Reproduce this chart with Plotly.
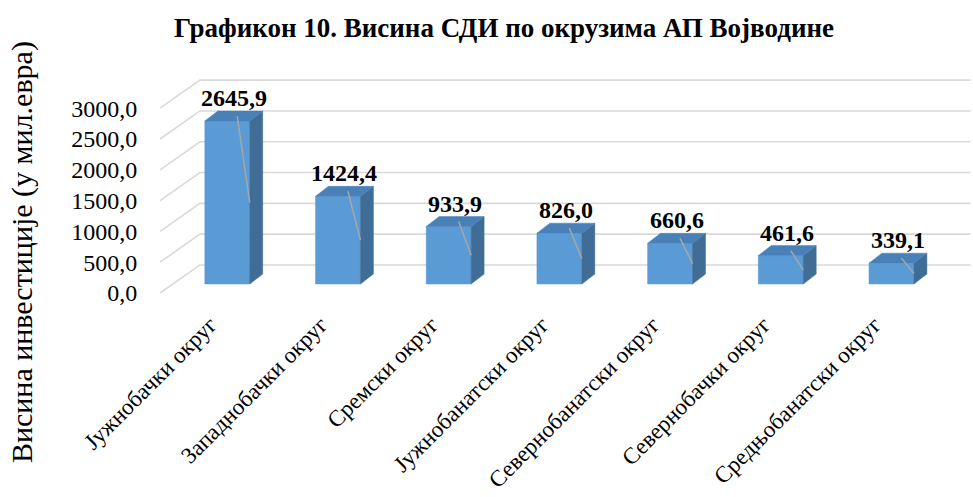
import plotly.graph_objects as go

# Data: FDI by district of AP Vojvodina (million EUR)
districts = [
    "Јужнобачки округ",
    "Западнобачки округ",
    "Сремски округ",
    "Јужнобанатски округ",
    "Севернобанатски округ",
    "Севернобачки округ",
    "Средњобанатски округ",
]
values = [2645.9, 1424.4, 933.9, 826.0, 660.6, 461.6, 339.1]
y_ticks = [0, 500, 1000, 1500, 2000, 2500, 3000]

title_text = "<b>Графикон 10. Висина СДИ по окрузима АП Војводине</b>"
y_title = "Висина инвестиције (у мил.евра)"

# Pseudo-3D geometry (x in category units, y in value units)
WALL_DX, WALL_DY = 0.361, 455.0      # floor depth: front plane -> back wall
BAR_D0 = 0.32                        # depth where the bar front face sits
BAR_W = 0.406                        # front face width
BAR_DX, BAR_DY = 0.117, 162.0        # bar depth in projection
FLOOR_LEFT, WALL_RIGHT = -0.492, 6.83

FONT = "Liberation Serif"
FRONT = "#5B9BD5"
SIDE = "#3F6D96"
TOP = "#4A80B8"
GRID = "#D9D9D9"

fig = go.Figure()

# Gridlines: diagonal on the side wall, horizontal on the back wall
for t in y_ticks:
    xs = [FLOOR_LEFT, FLOOR_LEFT + WALL_DX, WALL_RIGHT]
    ys = [t, t + WALL_DY, t + WALL_DY]
    fig.add_trace(go.Scatter(x=xs, y=ys, mode="lines",
                             line=dict(color=GRID, width=1.6),
                             hoverinfo="skip", showlegend=False))

def poly(xs, ys, color):
    fig.add_trace(go.Scatter(x=xs + [xs[0]], y=ys + [ys[0]], mode="lines",
                             fill="toself", fillcolor=color,
                             line=dict(color=color, width=0.5),
                             hoverinfo="skip", showlegend=False))

for i, v in enumerate(values):
    xc = i + BAR_D0 * WALL_DX
    xl, xr = xc - BAR_W / 2, xc + BAR_W / 2
    b = BAR_D0 * WALL_DY
    t = b + v
    # front face
    poly([xl, xr, xr, xl], [b, b, t, t], FRONT)
    # right side face
    poly([xr, xr + BAR_DX, xr + BAR_DX, xr], [b, b + BAR_DY, t + BAR_DY, t], SIDE)
    # top face
    poly([xl, xr, xr + BAR_DX, xl + BAR_DX], [t, t, t + BAR_DY, t + BAR_DY], TOP)
    # label leader line
    fig.add_trace(go.Scatter(x=[xc + 0.09, xr], y=[t + 0.5 * BAR_DY, b + v / 2],
                             mode="lines", line=dict(color="#A6A6A6", width=1.5),
                             hoverinfo="skip", showlegend=False))
    fig.add_annotation(x=xc + BAR_DX / 2, y=t + BAR_DY,
                       text="<b>" + f"{v:.1f}".replace(".", ",") + "</b>",
                       showarrow=False, yanchor="middle", yshift=13,
                       font=dict(family=FONT, size=24, color="#000000"))

fig.update_layout(
    width=973, height=497,
    margin=dict(l=155, r=0, t=75, b=202),
    paper_bgcolor="white", plot_bgcolor="white",
    separators=", ",
    title=dict(text=title_text, x=0.518, xanchor="center", y=0.945, yanchor="middle",
               font=dict(family=FONT, size=27, color="#000000")),
    font=dict(family=FONT, color="#000000"),
    xaxis=dict(range=[-0.5375, 6.852], showgrid=False, zeroline=False,
               showline=False, tickmode="array",
               tickvals=[i - 0.04 for i in range(len(districts))],
               ticktext=districts, tickangle=-45,
               ticks="outside", ticklen=6, tickcolor="rgba(0,0,0,0)",
               tickfont=dict(family=FONT, size=23, color="#000000")),
    yaxis=dict(range=[-32.5, 3539], showgrid=False, zeroline=False,
               showline=False, tickmode="array", tickvals=y_ticks,
               tickformat=".1f", ticks="outside", ticklen=12,
               tickcolor="rgba(0,0,0,0)",
               tickfont=dict(family=FONT, size=24, color="#000000")),
)

fig.add_annotation(xref="paper", yref="paper", x=-0.1626, y=0.195,
                   xanchor="center", yanchor="middle",
                   text=y_title, textangle=-90, showarrow=False,
                   font=dict(family=FONT, size=30, color="#000000"))

fig.write_html("out.html")
